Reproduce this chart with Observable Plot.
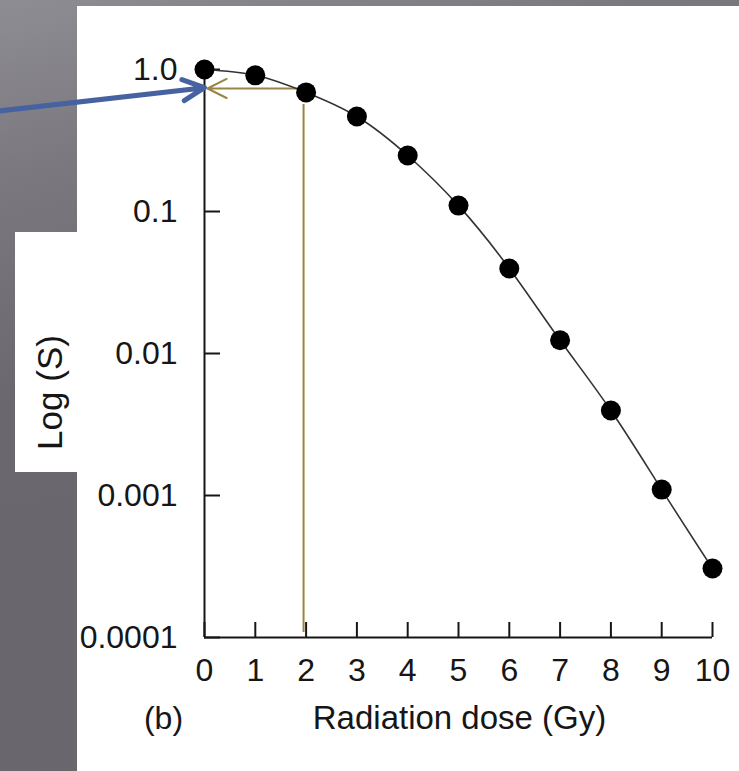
<!DOCTYPE html>
<html>
<head>
<meta charset="utf-8">
<script src="https://cdn.jsdelivr.net/npm/d3@7"></script>
<script src="https://cdn.jsdelivr.net/npm/@observablehq/plot@0.6"></script>
<style>
html, body { margin: 0; padding: 0; }
body {
  width: 739px; height: 771px; position: relative; overflow: hidden;
  background: linear-gradient(165deg, #8f8d94 0%, #7b797f 18%, #6a686e 42%, #69676d 100%);
  font-family: "Liberation Sans", Arial, Helvetica, sans-serif;
}
#panel { position: absolute; left: 77px; top: 6px; width: 662px; height: 765px; background: #fff; }
#labelbox { position: absolute; left: 15px; top: 232px; width: 62px; height: 240px; background: #fff; }
#chart { position: absolute; left: 0; top: 0; }
</style>
</head>
<body>
<div id="panel"></div>
<div id="labelbox"></div>
<div id="chart"></div>
<script>
// Data
const doses = [0, 1, 2, 3, 4, 5, 6, 7, 8, 9, 10];
const survival = [1.0, 0.91, 0.69, 0.467, 0.248, 0.110, 0.0397, 0.0124, 0.00397, 0.0011, 0.000306];
const xTicks = [0, 1, 2, 3, 4, 5, 6, 7, 8, 9, 10];
const yTicks = [1, 0.1, 0.01, 0.001, 0.0001];
const yTickLabels = ["1.0", "0.1", "0.01", "0.001", "0.0001"];
const xTitle = "Radiation dose (Gy)";
const yTitle = "Log (S)";
const panelLabel = "(b)";
// Annotation (read-off at 2 Gy)
const readDose = [1.95];
const readSurvival = [0.735];
const blueArrow = [{x1: -4.05, y1: 0.51, x2: 0.0, y2: 0.745}];

const data = doses.map((d, i) => ({dose: d, s: survival[i]}));
const W = 739, H = 771, mL = 204, mR = 27, mT = 69, mB = 134;
const fw = W - mL - mR, fh = H - mT - mB;
const ink = "#161616";

const chart = Plot.plot({
  width: W, height: H,
  marginLeft: mL, marginRight: mR, marginTop: mT, marginBottom: mB,
  style: {background: "transparent", fontFamily: "Liberation Sans, Arial, Helvetica, sans-serif", color: ink},
  x: {domain: [0, 10], label: null},
  y: {type: "log", domain: [1e-4, 1], label: null},
  marks: [
    // axis lines
    Plot.ruleY([1e-4], {stroke: ink, strokeWidth: 2}),
    Plot.ruleX([0], {stroke: ink, strokeWidth: 2}),
    // inward ticks
    Plot.gridX(xTicks, {stroke: ink, strokeOpacity: 1, strokeWidth: 2, insetTop: fh - 15}),
    Plot.gridY(yTicks, {stroke: ink, strokeOpacity: 1, strokeWidth: 2, insetRight: fw - 16}),
    // tick labels
    Plot.axisX(xTicks, {tickSize: 0, tickPadding: 21, fontSize: 32, fill: ink}),
    Plot.axisY(yTicks, {tickSize: 0, tickPadding: 27, fontSize: 32, fill: ink,
      tickFormat: d => yTickLabels[yTicks.indexOf(d)]}),
    // read-off annotation (gold)
    Plot.ruleX(readDose, {y1: readSurvival[0], y2: 1e-4, insetTop: 16, insetBottom: 5, stroke: "#9a8644", strokeWidth: 2}),
    Plot.arrow(readDose, {x1: d => d, x2: 0, y1: readSurvival[0], y2: readSurvival[0],
      stroke: "#9a8644", strokeWidth: 2, headAngle: 53, headLength: 16, insetEnd: 3}),
    // curve and points
    Plot.line(data, {x: "dose", y: "s", curve: "natural", stroke: "#333", strokeWidth: 1.6}),
    Plot.dot(data, {x: "dose", y: "s", r: 10, fill: "#000", stroke: null}),
    // blue pointer arrow
    Plot.arrow(blueArrow, {x1: "x1", y1: "y1", x2: "x2", y2: "y2",
      stroke: "#4762a0", strokeWidth: 5, headAngle: 52, headLength: 7.2, insetEnd: 0, clip: false}),
    // titles
    Plot.text([xTitle], {frameAnchor: "bottom", dx: 1, dy: 81, fontSize: 33, fill: ink, lineAnchor: "middle", textAnchor: "middle"}),
    Plot.text([panelLabel], {frameAnchor: "bottom-left", dx: -41, dy: 81, fontSize: 32, fill: ink, lineAnchor: "middle", textAnchor: "middle"}),
    Plot.text([yTitle], {frameAnchor: "left", dx: -154, dy: 39, rotate: -90, fontSize: 35, fill: ink, lineAnchor: "middle", textAnchor: "middle"})
  ]
});
document.getElementById("chart").appendChild(chart);
</script>
</body>
</html>
